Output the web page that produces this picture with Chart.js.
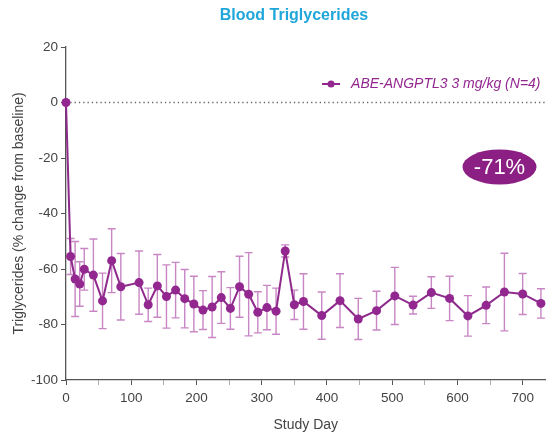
<!DOCTYPE html>
<html>
<head>
<meta charset="utf-8">
<script src="https://cdn.jsdelivr.net/npm/chart.js@4.4.0/dist/chart.umd.min.js"></script>
<style>
  body { margin: 0; background: #fff; }
</style>
</head>
<body>
<canvas id="tgChart" width="550" height="441"></canvas>
<script>
// study days and mean % change in triglycerides
const studyDays = [0, 7, 14, 21, 28, 42, 56, 70, 84, 112, 126, 140, 154, 168, 182, 196, 210, 224, 238,
  252, 266, 280, 294, 308, 322, 336, 350, 364, 392, 420, 448, 476, 504, 532, 560, 588, 616, 644, 672, 700, 728];
const tgChange = [0, -55.5, -63.6, -65.4, -60.1, -62.2, -71.5, -57, -66.4, -64.9, -72.9, -66.1, -69.9, -67.6,
  -70.7, -72.6, -74.8, -73.7, -70.3, -74.2, -66.4, -69.1, -75.6, -73.9, -75.2, -53.5, -72.9, -71.7, -76.8,
  -71.4, -78, -75, -69.7, -73, -68.5, -70.6, -76.9, -73.1, -68.3, -69, -72.4];
// error bar half-length
const tgErr = [0, 6.5, 13.5, 8, 7.5, 13, 10, 11.5, 12, 11.4, 6, 11.3, 11.4, 10, 10.5, 10, 7, 11, 9.3,
  7.5, 11, 15, 7.4, 8, 8.3, 2.2, 5.3, 10, 8.5, 9.7, 7.4, 7, 10.3, 3.2, 5.7, 8, 7.3, 6.6, 14, 7.4, 5.3];
const xTickLabels = [0, 100, 200, 300, 400, 500, 600, 700];
const seriesName = "ABE-ANGPTL3 3 mg/kg (N=4)";
const badgeText = "-71%";

const purple = "#92278f";
const axisGray = "#555";

Chart.defaults.font.family = "'Liberation Sans', Arial, sans-serif";

const errorBars = {
  id: "errorBars",
  beforeDatasetsDraw(chart) {
    const { ctx, chartArea, scales: { x, y } } = chart;
    ctx.save();
    // dotted baseline at 0
    const y0 = y.getPixelForValue(0);
    ctx.strokeStyle = "#666";
    ctx.lineWidth = 1.3;
    ctx.setLineDash([1.3, 3]);
    ctx.beginPath();
    ctx.moveTo(chartArea.left, y0);
    ctx.lineTo(chartArea.right, y0);
    ctx.stroke();
    ctx.setLineDash([]);

    ctx.strokeStyle = "rgba(186, 104, 181, 0.8)";
    ctx.lineWidth = 1.4;
    studyDays.forEach((d, i) => {
      const e = tgErr[i];
      if (!e) return;
      const px = x.getPixelForValue(d);
      const top = y.getPixelForValue(tgChange[i] + e);
      const bot = y.getPixelForValue(tgChange[i] - e);
      ctx.beginPath();
      ctx.moveTo(px, top);
      ctx.lineTo(px, bot);
      ctx.moveTo(px - 4, top);
      ctx.lineTo(px + 4, top);
      ctx.moveTo(px - 4, bot);
      ctx.lineTo(px + 4, bot);
      ctx.stroke();
    });
    ctx.restore();
  },
};

const decorations = {
  id: "decorations",
  afterDraw(chart) {
    const { ctx, chartArea } = chart;
    ctx.save();
    // title
    ctx.fillStyle = "#1fa6da";
    ctx.font = "bold 16px 'Liberation Sans', Arial, sans-serif";
    ctx.textAlign = "center";
    ctx.textBaseline = "middle";
    ctx.fillText("Blood Triglycerides", chartArea.left + 228, 16);

    // legend inside plot
    ctx.font = "italic 14px 'Liberation Sans', Arial, sans-serif";
    ctx.textAlign = "right";
    const ly = chartArea.top + 37;
    const textRight = chartArea.right - 5;
    ctx.fillStyle = purple;
    ctx.fillText(seriesName, textRight, ly);
    const tw = ctx.measureText(seriesName).width;
    const mx = textRight - tw - 20;
    ctx.strokeStyle = purple;
    ctx.lineWidth = 2;
    ctx.beginPath();
    ctx.moveTo(mx - 9, ly);
    ctx.lineTo(mx + 9, ly);
    ctx.stroke();
    ctx.beginPath();
    ctx.arc(mx, ly, 3.5, 0, Math.PI * 2);
    ctx.fill();

    // -71% badge
    const bx = chartArea.right - 46;
    const by = chartArea.top + 120;
    ctx.fillStyle = "#8c1f83";
    ctx.beginPath();
    ctx.ellipse(bx, by, 37, 17.5, 0, 0, Math.PI * 2);
    ctx.fill();
    ctx.fillStyle = "#fff";
    ctx.font = "22px 'Liberation Sans', Arial, sans-serif";
    ctx.textAlign = "center";
    ctx.fillText(badgeText, bx, by + 1);
    ctx.restore();
  },
};

const ctx = document.getElementById("tgChart");
const tgChart = new Chart(ctx, {
  type: "line",
  data: {
    datasets: [
      {
        label: seriesName,
        data: studyDays.map((d, i) => ({ x: d, y: tgChange[i] })),
        borderColor: "#8e2a8b",
        backgroundColor: purple,
        borderWidth: 2,
        pointRadius: 4.5,
        pointBorderWidth: 0,
        pointBackgroundColor: purple,
        tension: 0,
        clip: false,
      },
    ],
  },
  options: {
    responsive: false,
    animation: false,
    layout: { padding: { top: 47, right: 2, bottom: 0, left: 0 } },
    plugins: {
      legend: { display: false },
      tooltip: { enabled: false },
    },
    scales: {
      x: {
        type: "linear",
        min: 0,
        max: 735,
        border: { color: axisGray, width: 1.3 },
        grid: {
          drawOnChartArea: false,
          tickLength: 5,
          color: (c) => (c.tick && c.tick.value % 100 ? "#aaa" : axisGray),
        },
        ticks: {
          stepSize: 50,
          includeBounds: false,
          autoSkip: false,
          maxRotation: 0,
          padding: 5,
          color: "#444",
          font: { size: 13.5 },
          callback: (v) => (xTickLabels.includes(v) ? v : ""),
        },
        title: {
          display: true,
          text: "Study Day",
          color: "#444",
          font: { size: 14 },
          padding: { top: 4, bottom: 7 },
        },
        afterFit: (s) => {
          s.height = 61;
        },
      },
      y: {
        min: -100,
        max: 20,
        border: { color: axisGray, width: 1.3 },
        grid: { drawOnChartArea: false, tickLength: 5, color: axisGray },
        ticks: { stepSize: 20, padding: 3, color: "#444", font: { size: 13.5 } },
        title: {
          display: true,
          text: "Triglycerides (% change from baseline)",
          color: "#444",
          font: { size: 14 },
          padding: { top: 11, bottom: 0 },
        },
        afterFit: (s) => {
          s.width = 66;
        },
      },
    },
  },
  plugins: [errorBars, decorations],
});
</script>
</body>
</html>
